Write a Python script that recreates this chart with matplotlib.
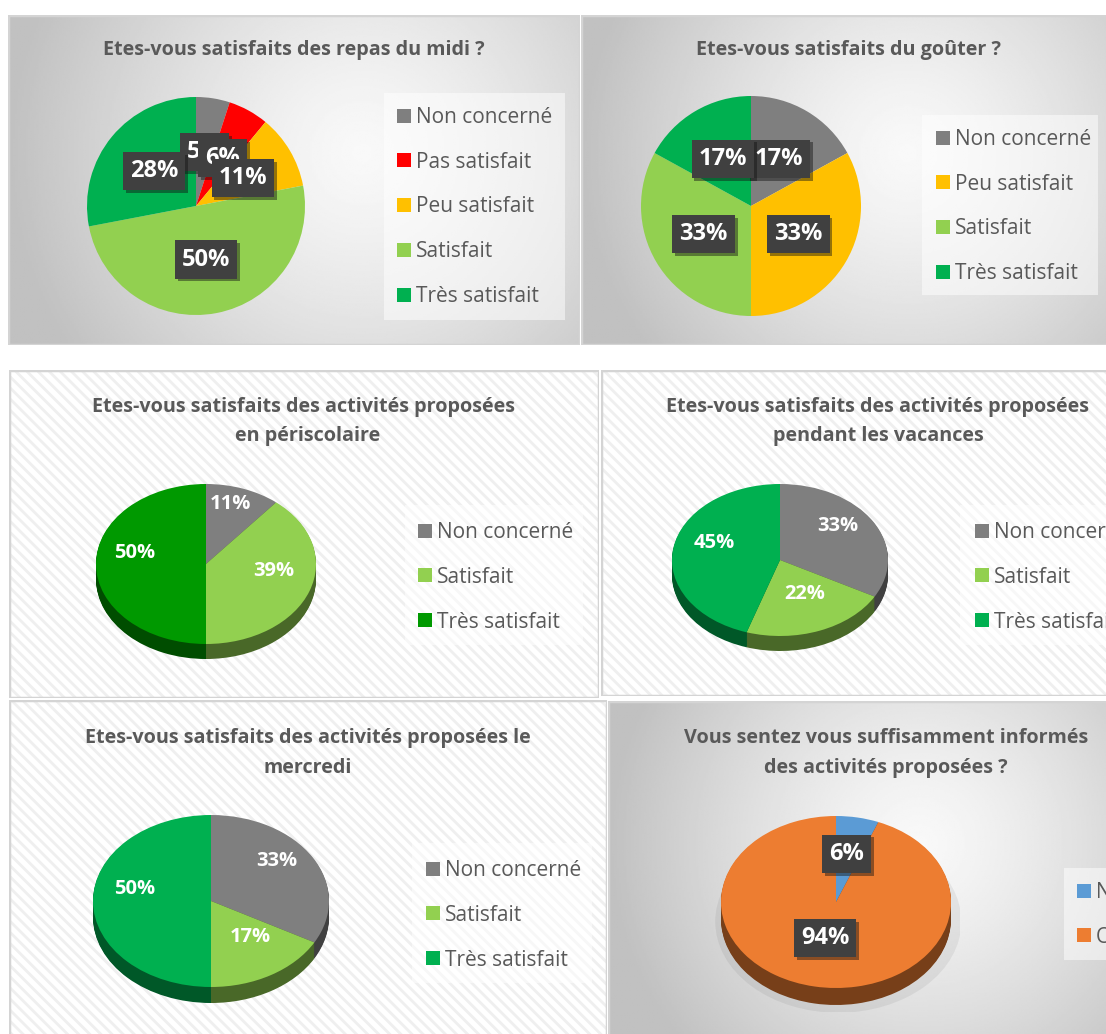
import numpy as np
import matplotlib.pyplot as plt
import matplotlib.patheffects as pe
from matplotlib.patches import Rectangle, Ellipse
from matplotlib.colors import to_rgb

plt.rcParams['font.family'] = ['Open Sans', 'DejaVu Sans']
plt.rcParams['hatch.color'] = '#efefef'
plt.rcParams['hatch.linewidth'] = 2.0

W, H = 1106, 1034

# --- data ---
repas_labels = ['Non concerné', 'Pas satisfait', 'Peu satisfait', 'Satisfait', 'Très satisfait']
repas_values = [5, 6, 11, 50, 28]
repas_colors = ['#7f7f7f', '#ff0000', '#ffc000', '#92d050', '#00b050']

gouter_labels = ['Non concerné', 'Peu satisfait', 'Satisfait', 'Très satisfait']
gouter_values = [17, 33, 33, 17]
gouter_colors = ['#7f7f7f', '#ffc000', '#92d050', '#00b050']

activite_labels = ['Non concerné', 'Satisfait', 'Très satisfait']
periscolaire_values = [11, 39, 50]
periscolaire_colors = ['#7f7f7f', '#92d050', '#009900']
vacances_values = [33, 22, 45]
mercredi_values = [33, 17, 50]
activite_colors = ['#7f7f7f', '#92d050', '#00b050']

info_labels = ['Non', 'Oui']
info_values = [6, 94]
info_colors = ['#5b9bd5', '#ed7d31']

TXT = '#595959'

fig = plt.figure(figsize=(W / 100, H / 100), dpi=100)
fig.patch.set_facecolor('white')


def px_axes(x0, y0, x1, y1, z=0):
    ax = fig.add_axes([x0 / W, 1 - y1 / H, (x1 - x0) / W, (y1 - y0) / H], zorder=z)
    ax.set_axis_off()
    return ax


def panel(box, style):
    ax = px_axes(*box, z=0)
    ax.set_xlim(0, 1)
    ax.set_ylim(0, 1)
    w, h = box[2] - box[0], box[3] - box[1]
    if style == 'gradient':
        yy, xx = np.mgrid[0:1:200j, 0:1:300j]
        d = np.hypot((xx - 0.62) * w, (yy - 0.42) * h) / (0.62 * w)
        img = 0.975 - 0.22 * np.clip(d, 0, 1) ** 1.3
        ax.imshow(img, cmap='gray', vmin=0, vmax=1, extent=(0, 1, 0, 1),
                  aspect='auto', origin='upper')
    else:
        ax.add_patch(Rectangle((0, 0), 1, 1, fc='white', ec='#efefef', lw=0, hatch='\\\\\\'))
    ax.add_patch(Rectangle((0, 0), 1, 1, fill=False, ec='#d4d4d4', lw=2.5))


def title(cx, cy, text):
    fig.text(cx / W, 1 - cy / H, text, ha='center', va='center',
             fontsize=14.2, fontweight='bold', color=TXT)


def box_labels(texts):
    for t in texts:
        t.set_bbox(dict(boxstyle='square,pad=0.3', fc='#404040', ec='none'))
        t.get_bbox_patch().set_path_effects(
            [pe.SimplePatchShadow(offset=(2, -2), alpha=0.45), pe.Normal()])


def legend(ax, wedges, labels, mx, my, bg):
    bax = px_axes(*bg, z=1)
    bax.set_xlim(0, 1)
    bax.set_ylim(0, 1)
    bax.add_patch(Rectangle((0, 0), 1, 1, fc='white', ec='none', alpha=0.5))
    ax.legend(wedges, labels, loc='upper left',
              bbox_to_anchor=(mx / W, 1 - (my - 8) / H), bbox_transform=fig.transFigure,
              frameon=False, fontsize=15, handlelength=0.65, handleheight=0.65,
              handletextpad=0.25, labelspacing=1.14, borderpad=0, borderaxespad=0,
              labelcolor=TXT)


def flat_pie(cx, cy, r, values, colors):
    m = 1.08
    ax = px_axes(cx - r * m, cy - r * m, cx + r * m, cy + r * m, z=2)
    wedges, _, autotexts = ax.pie(
        values, colors=colors, startangle=90, counterclock=False,
        autopct='%.0f%%', pctdistance=0.5, wedgeprops=dict(linewidth=0),
        textprops=dict(color='white', fontsize=17, fontweight='bold'))
    box_labels(autotexts)
    ax.set_xlim(-m, m)
    ax.set_ylim(-m, m)
    return ax, wedges


def darker(c, f=0.5):
    r, g, b = to_rgb(c)
    return (r * f, g * f, b * f)


def pie3d(cx, cy, a, b, depth, values, colors, pctdist, lift, boxed, fs, shadow=False):
    m = 1.08
    ax = px_axes(cx - a * m, cy - b * m, cx + a * m, cy + b * m + depth, z=2)
    d = depth / b
    if shadow:
        ax.add_patch(Ellipse((0.02, -d - 0.03), 2.14, 2.12, fc='#000000', alpha=0.06, lw=0))
    side = [darker(c) for c in colors]
    for off in np.linspace(d, 0, 18)[:-1]:
        ax.pie(values, colors=side, startangle=90, counterclock=False,
               center=(0, -off), wedgeprops=dict(linewidth=0))
    wedges, _, autotexts = ax.pie(
        values, colors=colors, startangle=90, counterclock=False,
        autopct='%.0f%%', pctdistance=pctdist, wedgeprops=dict(linewidth=0),
        textprops=dict(color='white', fontsize=fs, fontweight='bold'))
    for t in autotexts:
        x, y = t.get_position()
        t.set_position((x, y + lift / b))
    if boxed:
        box_labels(autotexts)
    ax.set_aspect('auto')
    ax.set_xlim(-m, m)
    ax.set_ylim(-m - d, m)
    return ax, wedges


# panels
panel((8, 15, 580, 345), 'gradient')
panel((581, 15, 1108, 345), 'gradient')
panel((9, 370, 599, 698), 'hatch')
panel((601, 370, 1110, 696), 'hatch')
panel((9, 700, 607, 1040), 'hatch')
panel((608, 701, 1110, 1040), 'gradient')

# 1 - repas du midi
title(294, 50, 'Etes-vous satisfaits des repas du midi ?')
ax, w = flat_pie(196, 206, 109, repas_values, repas_colors)
legend(ax, w, repas_labels, 397, 115, (384, 93, 565, 320))

# 2 - goûter
title(848, 50, 'Etes-vous satisfaits du goûter ?')
ax, w = flat_pie(751, 206, 110, gouter_values, gouter_colors)
legend(ax, w, gouter_labels, 936, 137, (922, 115, 1098, 295))

# 3 - périscolaire
title(304, 407, 'Etes-vous satisfaits des activités proposées')
title(308, 436, 'en périscolaire')
ax, w = pie3d(206, 564, 110, 80, 15, periscolaire_values, periscolaire_colors, 0.65, 11, False, 14.5)
legend(ax, w, activite_labels, 418, 530, (405, 505, 583, 645))

# 4 - vacances
title(878, 407, 'Etes-vous satisfaits des activités proposées')
title(878, 436, 'pendant les vacances')
ax, w = pie3d(780, 560, 108, 76, 15, vacances_values, activite_colors, 0.62, 10, False, 14.5)
legend(ax, w, activite_labels, 975, 530, (960, 505, 1110, 645))

# 5 - mercredi
title(308, 738, 'Etes-vous satisfaits des activités proposées le')
title(308, 768, 'mercredi')
ax, w = pie3d(211, 901, 118, 86, 16, mercredi_values, activite_colors, 0.65, 12, False, 14.5)
legend(ax, w, activite_labels, 426, 868, (412, 843, 592, 983))

# 6 - information
title(886, 738, 'Vous sentez vous suffisamment informés')
title(886, 768, 'des activités proposées ?')
ax, w = pie3d(836, 902, 115, 86, 17, info_values, info_colors, 0.5, 6, True, 17, shadow=True)
legend(ax, w, info_labels, 1077, 890, (1064, 868, 1110, 960))

fig.savefig('out.png', dpi=100)
